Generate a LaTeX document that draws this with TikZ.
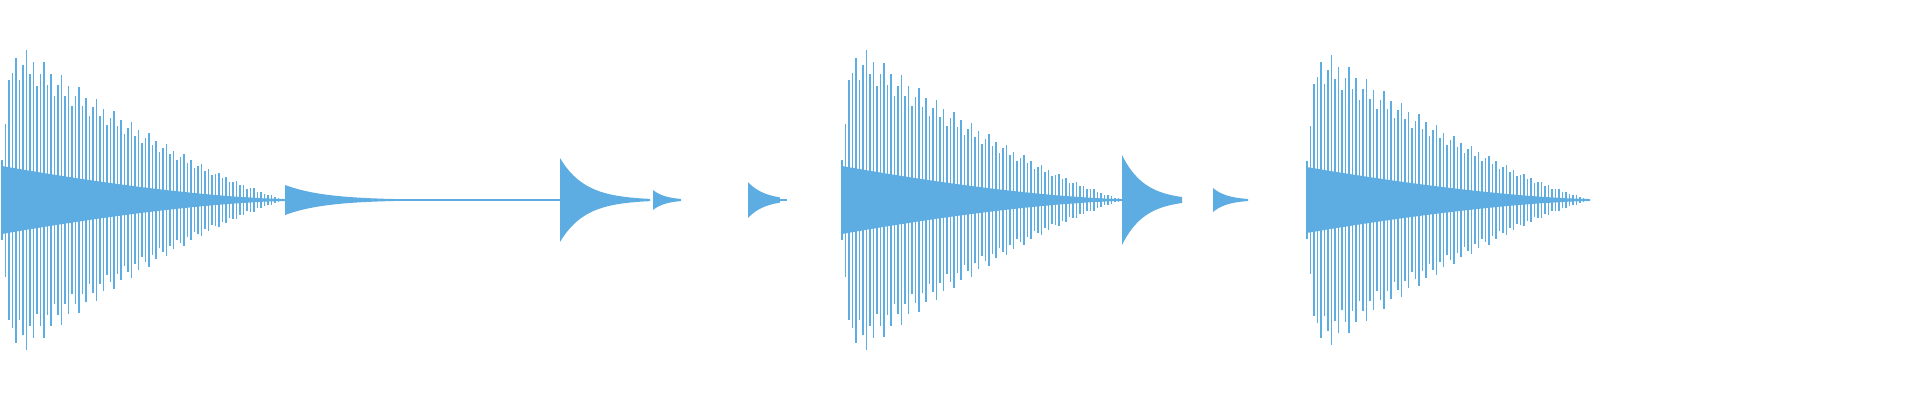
\documentclass[tikz,border=0pt]{standalone}
\usepackage{tikz}
\definecolor{wave}{HTML}{5DADE2}
% one decaying burst: x0, length, amplitude, step
\newcommand{\wburst}[4]{%
  \pgfmathtruncatemacro{\nn}{#2/#4}
  \foreach \i in {0,...,\nn}{
    \pgfmathsetmacro{\tt}{\i*#4}
    \pgfmathsetmacro{\ee}{max(0.02,1-max(0,\tt-0.25)/(#2-0.2))}
    \pgfmathsetmacro{\aa}{#3*(\ee^1.3)*min(1,(\tt+0.05)/0.15)*(0.8+0.2*mod(\i*7,5)/4)}
    \draw[wave line] (#1+\tt,2-\aa) -- (#1+\tt,2+\aa);
  }
  \fill[wave] (#1,2) -- plot[domain=0:#2,samples=40] ({#1+\x},{2+0.22*#3*(1-\x/#2)^1.5+0.01})
    -- plot[domain=#2:0,samples=40] ({#1+\x},{2-0.22*#3*(1-\x/#2)^1.5-0.01}) -- cycle;
}
\newcommand{\wdecay}[4]{%
  \fill[wave] (#1,2+#3) -- plot[domain=0:#2,samples=40] ({#1+\x},{2+#3*exp(-#4*\x)})
    -- plot[domain=#2:0,samples=40] ({#1+\x},{2-#3*exp(-#4*\x)}) -- cycle;
}
\begin{document}
\begin{tikzpicture}[wave line/.style={wave,line width=0.4pt}]
\useasboundingbox (0,0) rectangle (19.2,4);
% large bursts
\wburst{0.02}{2.83}{1.5}{0.035}
\wburst{8.42}{2.80}{1.5}{0.035}
\wburst{13.07}{2.83}{1.45}{0.035}
% small tails
\wdecay{2.85}{2.75}{0.15}{2.5}
\draw[wave line] (2.85,2) -- (5.6,2);
\wdecay{5.60}{0.90}{0.42}{4.0}
\wdecay{6.53}{0.28}{0.10}{8.0}
\wdecay{7.48}{0.32}{0.18}{6.0}
\draw[wave line,dash pattern=on 2pt off 4pt] (7.8,2) -- (8.0,2);
\wdecay{11.22}{0.60}{0.45}{4.5}
\wdecay{12.13}{0.35}{0.12}{7.0}
\end{tikzpicture}
\end{document}
